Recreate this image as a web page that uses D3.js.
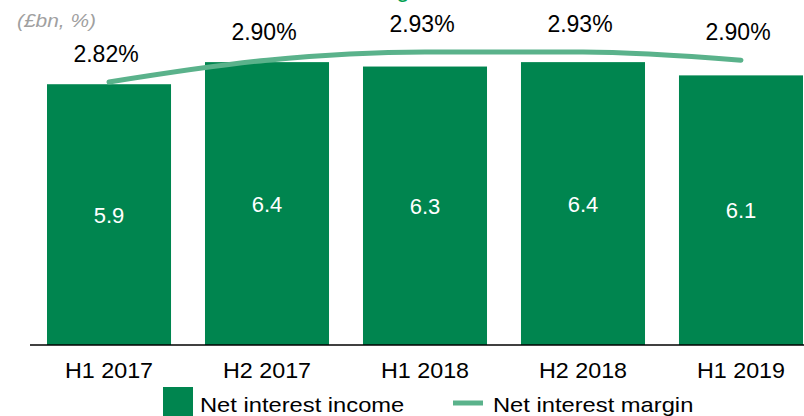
<!DOCTYPE html>
<html>
<head>
<meta charset="utf-8">
<script src="https://cdn.jsdelivr.net/npm/d3@7"></script>
<style>
  html, body { margin: 0; padding: 0; background: #fff; }
  svg { display: block; }
  text { font-family: "Liberation Sans", Arial, sans-serif; }
</style>
</head>
<body>
<script>
const categories = ["H1 2017", "H2 2017", "H1 2018", "H2 2018", "H1 2019"];
const incomeValues = [5.9, 6.4, 6.3, 6.4, 6.1];
const marginValues = [2.82, 2.90, 2.93, 2.93, 2.90];
const marginLabels = ["2.82%", "2.90%", "2.93%", "2.93%", "2.90%"];
const legendLabels = ["Net interest income", "Net interest margin"];
const unitLabel = "(£bn, %)";

const W = 804, H = 416;
const barColor = "#00854f";
const lineColor = "#5ab28b";

const svg = d3.select("body").append("svg").attr("width", W).attr("height", H);

const x = d3.scaleBand().domain(categories).range([30, 820])
  .paddingInner(0.215).paddingOuter(0.1076);
const y = d3.scaleLinear().domain([0, 7]).range([345, 345 - 7 * 44.2]);
const yM = d3.scaleLinear().domain([2.5, 3.0]).range([169.3, 32.9]);

// clipped title descender at top (as in the reference)
svg.append("text").attr("x", 403).attr("y", -3).attr("text-anchor", "middle")
  .attr("font-size", 24).attr("fill", "#00a04f").text("g");

// unit label
svg.append("text").attr("transform", "translate(17,27) scale(1.1,1)")
  .attr("font-size", 19).attr("font-style", "italic").attr("fill", "#a0a0a0").text(unitLabel);

// bars
svg.append("g").selectAll("rect").data(incomeValues).join("rect")
  .attr("x", (d, i) => x(categories[i]))
  .attr("width", x.bandwidth())
  .attr("y", d => y(d))
  .attr("height", d => y(0) - y(d))
  .attr("fill", barColor);

// bar value labels
svg.append("g").selectAll("text").data(incomeValues).join("text")
  .attr("x", (d, i) => x(categories[i]) + x.bandwidth() / 2)
  .attr("y", d => (y(d) + y(0)) / 2 + 8)
  .attr("text-anchor", "middle").attr("font-size", 22).attr("fill", "#fff")
  .text(d => d.toFixed(1));

// x axis
const xAxis = d3.axisBottom(x).tickSize(0).tickPadding(0);
const gx = svg.append("g").attr("transform", `translate(0,${y(0)})`).call(xAxis);
gx.select(".domain").attr("d", `M30,0H804`).attr("stroke", "#000").attr("stroke-width", 1.5);
gx.selectAll(".tick text")
  .attr("y", null).attr("dy", null)
  .attr("font-family", "Liberation Sans, Arial, sans-serif")
  .attr("font-size", 22).attr("fill", "#000")
  .attr("transform", "translate(0,33) scale(1.06,1)");

// margin line
const line = d3.line()
  .x((d, i) => x(categories[i]) + x.bandwidth() / 2)
  .y(d => yM(d))
  .curve(d3.curveMonotoneX);
svg.append("path").datum(marginValues).attr("d", line)
  .attr("fill", "none").attr("stroke", lineColor).attr("stroke-width", 5)
  .attr("stroke-linecap", "round").attr("stroke-linejoin", "round");

// margin labels
svg.append("g").selectAll("text").data(marginValues).join("text")
  .attr("transform", (d, i) => `translate(${x(categories[i]) + x.bandwidth() / 2 - 3},${yM(d) - 20})`)
  .attr("text-anchor", "middle").attr("font-size", 23).attr("fill", "#000")
  .text((d, i) => marginLabels[i]);

// legend
const lg = svg.append("g");
lg.append("rect").attr("x", 163).attr("y", 387).attr("width", 30).attr("height", 30).attr("fill", barColor);
lg.append("text").attr("transform", "translate(200,412) scale(1.13,1)")
  .attr("font-size", 21).attr("fill", "#000").text(legendLabels[0]);
lg.append("line").attr("x1", 453).attr("x2", 483).attr("y1", 403).attr("y2", 403)
  .attr("stroke", lineColor).attr("stroke-width", 5);
lg.append("text").attr("transform", "translate(493,412) scale(1.13,1)")
  .attr("font-size", 21).attr("fill", "#000").text(legendLabels[1]);
</script>
</body>
</html>
